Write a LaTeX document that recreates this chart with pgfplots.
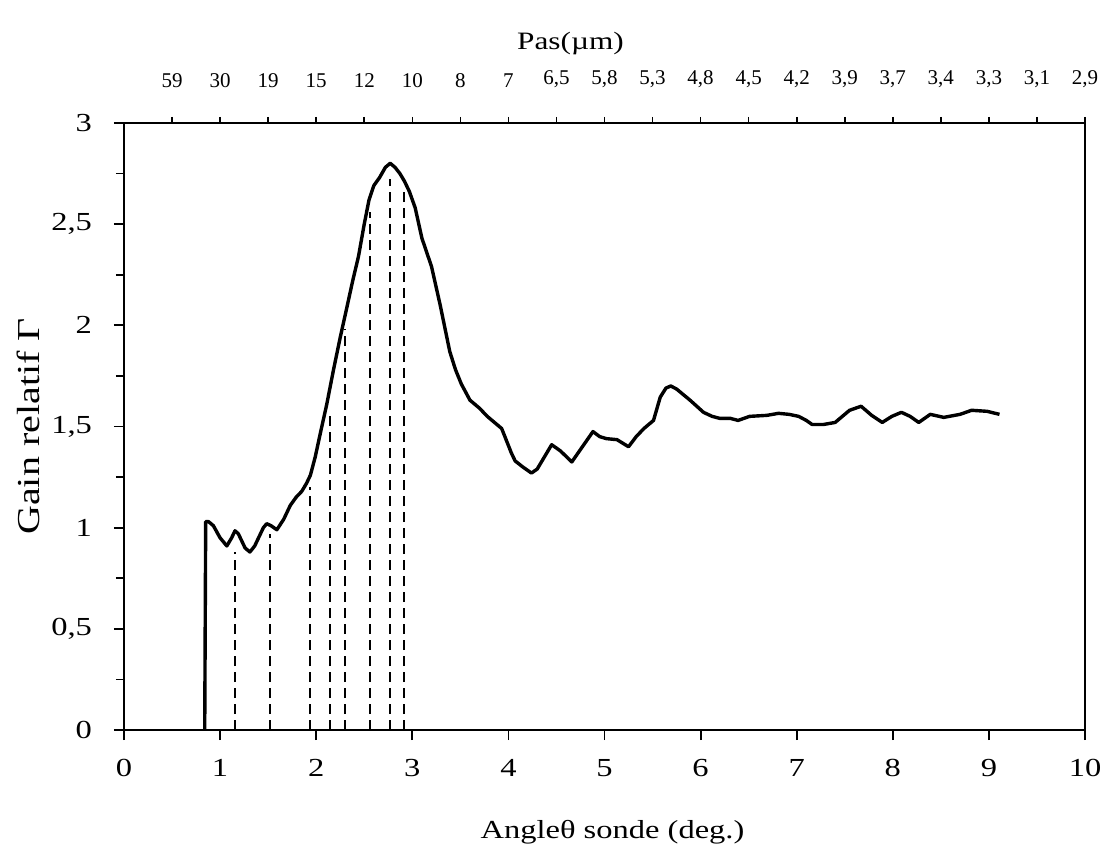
\documentclass[border=0pt]{standalone}
\usepackage{fontspec}
\setmainfont{Liberation Serif}[FakeStretch=1.25]
\newfontfamily\plainserif{Liberation Serif}
\usepackage{pgfplots}
\pgfplotsset{compat=1.18}
\begin{document}
\begin{tikzpicture}
\begin{axis}[
  scale only axis, width=480.5pt, height=303.7pt,
  xmin=0, xmax=10, ymin=0, ymax=3,
  axis line style={line width=1.2pt},
  xtick={0,...,10}, ytick={0,0.5,...,3},
  yticklabels={0,{0,5},1,{1,5},2,{2,5},3},
  minor ytick={0.25,0.75,...,2.75},
  xtick pos=bottom, ytick pos=left, tick align=outside,
  major tick length=5pt, minor tick length=4pt,
  every tick/.style={line width=0.9pt, black},
  /pgf/number format/assume math mode=true,
  ticklabel style={font=\fontsize{13}{15}\selectfont},
  xticklabel style={yshift=-6pt},
  yticklabel style={xshift=-7.5pt},
  xlabel={Angleθ sonde (deg.)}, ylabel={Gain relatif Γ},
  xlabel style={font=\fontsize{13}{15}\selectfont, yshift=-15pt, xshift=4pt},
  ylabel style={font=\fontsize{16}{18}\selectfont, at={(axis description cs:-0.099,0.50)}, anchor=center},
  clip=false,
]
\coordinate (SW) at (rel axis cs:0,0);
\coordinate (NE) at (rel axis cs:1,1);
\addplot[black, line width=1.7pt, line join=round] coordinates {
(0.84,0) (0.85,1.03) (0.88,1.03) (0.93,1.01) (1.0,0.95) (1.07,0.91) (1.12,0.95) (1.155,0.985) (1.19,0.97) (1.22,0.94) (1.26,0.90) (1.31,0.88) (1.36,0.91) (1.40,0.95) (1.45,1.00) (1.485,1.02) (1.53,1.01) (1.59,0.99) (1.66,1.04) (1.73,1.11) (1.79,1.15) (1.85,1.18) (1.90,1.22) (1.94,1.26) (1.99,1.35) (2.04,1.46) (2.11,1.61) (2.18,1.78) (2.25,1.94) (2.32,2.09) (2.38,2.22) (2.44,2.34) (2.50,2.50) (2.55,2.62) (2.60,2.69) (2.66,2.73) (2.72,2.78) (2.77,2.80) (2.82,2.78) (2.87,2.75) (2.92,2.71) (2.97,2.66) (3.03,2.58) (3.10,2.43) (3.20,2.29) (3.29,2.10) (3.39,1.87) (3.45,1.78) (3.51,1.71) (3.60,1.63) (3.70,1.59) (3.78,1.55) (3.88,1.51) (3.93,1.49) (3.98,1.43) (4.03,1.37) (4.07,1.33) (4.15,1.30) (4.24,1.27) (4.30,1.29) (4.35,1.33) (4.45,1.41) (4.54,1.38) (4.66,1.325) (4.77,1.40) (4.88,1.475) (4.95,1.45) (5.02,1.44) (5.13,1.435) (5.25,1.40) (5.33,1.45) (5.41,1.49) (5.51,1.53) (5.58,1.645) (5.64,1.69) (5.69,1.70) (5.75,1.685) (5.89,1.63) (6.03,1.57) (6.12,1.55) (6.20,1.54) (6.31,1.54) (6.39,1.53) (6.51,1.55) (6.69,1.555) (6.81,1.565) (6.92,1.56) (7.02,1.55) (7.10,1.53) (7.16,1.51) (7.28,1.51) (7.40,1.52) (7.55,1.58) (7.67,1.60) (7.78,1.555) (7.89,1.52) (7.99,1.55) (8.09,1.57) (8.18,1.55) (8.27,1.52) (8.39,1.56) (8.53,1.545) (8.70,1.56) (8.82,1.58) (8.98,1.575) (9.11,1.56)
};
\addplot[black, line width=1.1pt, dash pattern=on 5pt off 3pt] coordinates {(1.155,0) (1.155,0.88)};
\addplot[black, line width=1.1pt, dash pattern=on 5pt off 3pt] coordinates {(1.52,0) (1.52,0.97)};
\addplot[black, line width=1.1pt, dash pattern=on 5pt off 3pt] coordinates {(1.935,0) (1.935,1.20)};
\addplot[black, line width=1.1pt, dash pattern=on 5pt off 3pt] coordinates {(2.14,0) (2.14,1.58)};
\addplot[black, line width=1.1pt, dash pattern=on 5pt off 3pt] coordinates {(2.30,0) (2.30,1.98)};
\addplot[black, line width=1.1pt, dash pattern=on 5pt off 3pt] coordinates {(2.56,0) (2.56,2.56)};
\addplot[black, line width=1.1pt, dash pattern=on 5pt off 3pt] coordinates {(2.77,0) (2.77,2.72)};
\addplot[black, line width=1.1pt, dash pattern=on 5pt off 3pt] coordinates {(2.91,0) (2.91,2.67)};
\end{axis}
\begin{axis}[
  scale only axis, width=480.5pt, height=303.7pt,
  xmin=0, xmax=10, ymin=0, ymax=3,
  axis x line*=top, axis y line=none,
  axis line style={line width=1.2pt},
  xtick={0.5,1,...,10},
  xticklabels={59,30,19,15,12,10,8,7,{6,5},{5,8},{5,3},{4,8},{4,5},{4,2},{3,9},{3,7},{3,4},{3,3},{3,1},{2,9}},
  tick align=outside, major tick length=3pt,
  every tick/.style={line width=0.8pt, black},
  xticklabel style={font=\plainserif\fontsize{10.5}{12}\selectfont, yshift=11pt},
  xlabel={Pas(µm)},
  xlabel style={font=\fontsize{12.5}{15}\selectfont, yshift=1pt, xshift=-17pt},
]
\end{axis}
\pgfresetboundingbox
\path ([shift={(-62pt,-62pt)}]SW) rectangle ([shift={(11pt,61.4pt)}]NE);
\end{tikzpicture}
\end{document}
